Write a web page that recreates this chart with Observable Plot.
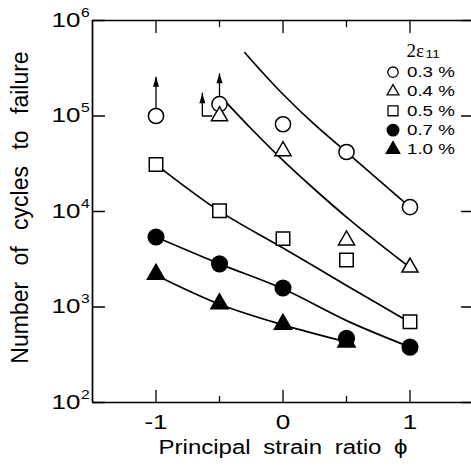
<!DOCTYPE html>
<html><head><meta charset="utf-8">
<script src="https://cdn.jsdelivr.net/npm/d3@7"></script>
<script src="https://cdn.jsdelivr.net/npm/@observablehq/plot@0.6"></script>
<style>body{margin:0;background:#fff;overflow:hidden} svg{display:block}</style>
</head><body><div id="chart"></div>
<script>
// ---- data ----
const phi = [-1, -0.5, 0, 0.5, 1];
const seriesLabels = ["0.3 %", "0.4 %", "0.5 %", "0.7 %", "1.0 %"];
const cycles03 = [1.0e5, 1.33e5, 8.2e4, 4.2e4, 1.11e4];
const cycles04 = [null, 1.0e5, 4.3e4, 5.0e3, 2.6e3];
const cycles05 = [3.1e4, 1.02e4, 5.2e3, 3.1e3, 7.0e2];
const cycles07 = [5.4e3, 2.83e3, 1.58e3, 4.7e2, 3.8e2];
const cycles10 = [2.2e3, 1.08e3, 6.6e2, 4.3e2, null];

const fitX03 = [-0.3, -0.15, 0, 0.25, 0.5, 0.75, 1];
const fitY03 = [4.6e5, 2.75e5, 1.69e5, 8.1e4, 4.19e4, 2.16e4, 1.11e4];
const fitX04 = [-0.48, -0.25, 0, 0.25, 0.5, 0.75, 1];
const fitY04 = [1.55e5, 7.35e4, 3.43e4, 1.70e4, 8.73e3, 4.69e3, 2.59e3];
const fitX05 = [-1, -0.5, 0, 0.5, 1];
const fitY05 = [3.1e4, 1.01e4, 4.15e3, 1.68e3, 6.9e2];
const fitX07 = [-1, -0.5, 0, 0.5, 1];
const fitY07 = [5.4e3, 2.83e3, 1.55e3, 7.2e2, 3.8e2];
const fitX10 = [-1, -0.5, 0, 0.5];
const fitY10 = [2.15e3, 1.07e3, 6.5e2, 4.3e2];

// run-out arrows (specimens that did not fail)
const runoutX = [-1, -0.5];
const runoutFrom = [1.0e5, 1.33e5];
const runoutTo = [2.57e5, 2.8e5];
const runoutLX = [-0.56, -0.635, -0.635];
const runoutLY = [1.0e5, 1.0e5, 1.73e5];

const xDomain = [-1.5, 1.5];
const yDomain = [1e2, 1e6];
const yTicks = [1e2, 1e3, 1e4, 1e5, 1e6];
const yTickBase = "10";
const yTickExp = ["2", "3", "4", "5", "6"];
const xMajor = [-1, 0, 1];
const xMajorLabels = ["-1", "0", "1"];
const xMinor = [-0.5, 0.5];
const xLabel = "Principal strain ratio \u03D5";
const yLabel = "Number of cycles to failure";
const legendTitle = "2\u03B5";
const legendTitleSub = "11";

// ---- build ----
const toPts = (xs, ys) => xs.map((x, i) => ({x, y: ys[i]})).filter(d => d.y != null);
const series = [
  {label: seriesLabels[0], pts: toPts(phi, cycles03), fit: toPts(fitX03, fitY03), symbol: "circle", fill: "white", r: 7.6, lr: 5.2},
  {label: seriesLabels[1], pts: toPts(phi, cycles04), fit: toPts(fitX04, fitY04), symbol: "triangle", fill: "white", r: 6.0, lr: 4.4},
  {label: seriesLabels[2], pts: toPts(phi, cycles05), fit: toPts(fitX05, fitY05), symbol: "square", fill: "white", r: 7.6, lr: 5.6},
  {label: seriesLabels[3], pts: toPts(phi, cycles07), fit: toPts(fitX07, fitY07), symbol: "circle", fill: "black", r: 7.8, lr: 5.8},
  {label: seriesLabels[4], pts: toPts(phi, cycles10), fit: toPts(fitX10, fitY10), symbol: "triangle", fill: "black", r: 6.4, lr: 5.0}
];
const runouts = runoutX.map((x, i) => ({x, from: runoutFrom[i], to: runoutTo[i]}));
const runoutL = toPts(runoutLX, runoutLY);

const tickShape = {draw(ctx, l) { ctx.moveTo(0, 0); ctx.lineTo(0, -l); }};
const arrowHead = {draw(ctx) { ctx.moveTo(0, 0); ctx.lineTo(-3, 10); ctx.lineTo(3, 10); ctx.closePath(); }};

const T = {lineAnchor: "middle"};
const marks = [
  // frame
  Plot.ruleY(yDomain, {stroke: "black", strokeWidth: 1.7}),
  Plot.ruleX([xDomain[0]], {stroke: "black", strokeWidth: 1.7}),
  // ticks (inward)
  Plot.vector(yTicks, {x: () => xDomain[0], y: d => d, length: 12, rotate: 90, anchor: "start", shape: tickShape, strokeWidth: 1.3}),
  Plot.vector(yTicks, {x: () => xDomain[1], y: d => d, length: 12, rotate: -90, anchor: "start", shape: tickShape, strokeWidth: 1.3}),
  Plot.vector(xMajor, {x: d => d, y: () => yDomain[0], length: 12, rotate: 0, anchor: "start", shape: tickShape, strokeWidth: 1.3}),
  Plot.vector(xMinor, {x: d => d, y: () => yDomain[0], length: 6, rotate: 0, anchor: "start", shape: tickShape, strokeWidth: 1.3}),
  Plot.vector(xMajor, {x: d => d, y: () => yDomain[1], length: 12, rotate: 180, anchor: "start", shape: tickShape, strokeWidth: 1.3}),
  Plot.vector(xMinor, {x: d => d, y: () => yDomain[1], length: 6, rotate: 180, anchor: "start", shape: tickShape, strokeWidth: 1.3}),
  // tick labels
  Plot.text(yTicks, {...T, x: () => xDomain[0], y: d => d, text: () => yTickBase, textAnchor: "end", dx: -12, dy: 0, fontSize: 20, ariaDescription: "ytl"}),
  Plot.text(yTicks.map((v, i) => ({v, e: yTickExp[i]})), {...T, x: () => xDomain[0], y: "v", text: "e", textAnchor: "start", dx: -11.5, dy: -8, fontSize: 13, ariaDescription: "ytle"}),
  Plot.text(xMajor.map((v, i) => ({v, t: xMajorLabels[i]})), {...T, x: "v", y: () => yDomain[0], text: "t", dy: 20, fontSize: 20, ariaDescription: "xtl"}),
  // axis labels
  Plot.text([xLabel], {...T, frameAnchor: "bottom", text: d => d, textAnchor: "middle", dy: 45, fontSize: 20, ariaDescription: "xlab"}),
  Plot.text([yLabel], {...T, frameAnchor: "left", text: d => d, textAnchor: "middle", dx: -72, dy: -4, rotate: -90, fontSize: 23, ariaDescription: "ylab"}),
  // fit curves
  ...series.map(s => Plot.line(s.fit, {x: "x", y: "y", curve: "catmull-rom", stroke: "black", strokeWidth: 1.7})),
  // run-out arrows
  Plot.link(runouts, {x1: "x", x2: "x", y1: "from", y2: "to", stroke: "black", strokeWidth: 1.3}),
  Plot.dot(runouts, {x: "x", y: "to", symbol: arrowHead, fill: "black", stroke: "none"}),
  Plot.line(runoutL, {x: "x", y: "y", stroke: "black", strokeWidth: 1.3}),
  Plot.dot(runoutL.slice(-1), {x: "x", y: "y", symbol: arrowHead, fill: "black", stroke: "none"}),
  // data points
  ...series.map(s => Plot.dot(s.pts, {x: "x", y: "y", symbol: s.symbol, r: s.r, fill: s.fill, stroke: "black", strokeWidth: 1.5})),
  // legend
  Plot.text([legendTitle], {...T, frameAnchor: "top-right", text: d => d, dx: -67, dy: 30, textAnchor: "start", fontSize: 19, fontFamily: "'Liberation Serif', serif", ariaDescription: "legt"}),
  Plot.text([legendTitleSub], {...T, frameAnchor: "top-right", text: d => d, dx: -48, dy: 34, textAnchor: "start", fontSize: 11.5, ariaDescription: "legs"}),
  ...series.map((s, i) => Plot.dot([s], {frameAnchor: "top-right", dx: -80.5, dy: 51.7 + 19.3 * i, symbol: s.symbol, r: s.lr, fill: s.fill, stroke: "black", strokeWidth: 1.3})),
  ...series.map((s, i) => Plot.text([s.label], {...T, frameAnchor: "top-right", text: d => d, dx: -66.5, dy: 51.7 + 19.3 * i, textAnchor: "start", fontSize: 15, ariaDescription: "legl"}))
];

const svg = Plot.plot({
  width: 471, height: 472,
  marginLeft: 92, marginRight: -2, marginTop: 20, marginBottom: 70,
  x: {domain: xDomain, axis: null},
  y: {type: "log", domain: yDomain, axis: null},
  style: {fontFamily: "'Liberation Sans', Arial, sans-serif", background: "white", color: "black"},
  marks
});
document.getElementById("chart").append(svg);

// widen horizontal glyphs like the original figure's font
function stretch(label, k, ws) {
  d3.select(svg).selectAll(`g[aria-description="${label}"] text`).each(function() {
    if (ws != null) this.style.wordSpacing = ws + "px";
    const L = this.getComputedTextLength();
    this.setAttribute("textLength", (L * k).toFixed(1));
    this.setAttribute("lengthAdjust", "spacingAndGlyphs");
  });
}
stretch("ytl", 1.3);
stretch("ytle", 1.2);
stretch("xtl", 1.3);
stretch("xlab", 1.2, 5);
stretch("legl", 1.25);
stretch("legs", 1.2);
d3.select(svg).selectAll('g[aria-description="ylab"] text').style("word-spacing", "10px");
</script>
</body></html>
